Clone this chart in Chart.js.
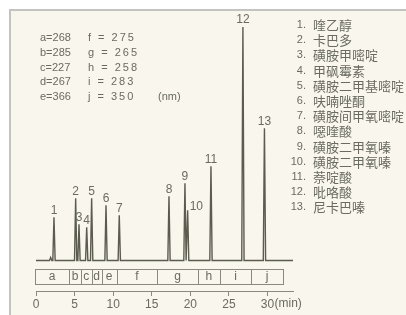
<!DOCTYPE html>
<html>
<head>
<meta charset="utf-8">
<script src="https://cdn.jsdelivr.net/npm/chart.js@4.4.1/dist/chart.umd.min.js"></script>
<style>
  html, body { margin: 0; padding: 0; background: #fff; }
</style>
</head>
<body>
<canvas id="chart" width="406" height="315"></canvas>
<script>
// peaks (retention time in min, height)
const peakLabels = ["1", "2", "3", "4", "5", "6", "7", "8", "9", "10", "11", "12", "13"];
const peakTimes = [2.33, 5.14, 5.57, 6.57, 7.21, 9.07, 10.79, 17.23, 19.3, 19.65, 22.67, 26.81, 29.6];
const peakHeights = [43, 62, 36, 33, 62, 55, 45, 64, 77, 50, 94, 233, 132];
const minorTimes = [1.9];
const minorHeights = [3];

const compoundNames = [
  "喹乙醇", "卡巴多", "磺胺甲嘧啶", "甲砜霉素", "磺胺二甲基嘧啶",
  "呋喃唑酮", "磺胺间甲氧嘧啶", "噁喹酸", "磺胺二甲氧嗪", "磺胺二甲氧嗪",
  "萘啶酸", "吡咯酸", "尼卡巴嗪"
];

// detection wavelength segments
const segmentLetters = ["a", "b", "c", "d", "e", "f", "g", "h", "i", "j"];
const wavelengths = [268, 285, 227, 267, 366, 275, 265, 258, 283, 350];
const segmentEdges = [-0.1, 4.3, 5.83, 7.2, 8.5, 10.45, 15.7, 21.0, 23.8, 27.9, 32.0];

const xTicks = [0, 5, 10, 15, 20, 25, 30];
const xEnd = 33.3;

const INK = "#5b5b50";
const TEXT = "#6b6b62";
const FONT = "'Liberation Sans', Arial, sans-serif";
const CJK = "'Noto Sans CJK SC', sans-serif";

// ---- chromatogram trace built from the peak list ----
const PEAK_HALF = 0.15;
const allPeaks = peakTimes.map((t, i) => ({ t: t, h: peakHeights[i] }))
  .concat(minorTimes.map((t, i) => ({ t: t, h: minorHeights[i] })))
  .sort((a, b) => a.t - b.t);
const trace = [{ x: 0, y: 0 }];
allPeaks.forEach((p) => {
  trace.push({ x: p.t - PEAK_HALF, y: 0 }, { x: p.t, y: p.h }, { x: p.t + PEAK_HALF, y: 0 });
});
trace.push({ x: xEnd, y: 0 });

// ---- background + frame ----
const framePlugin = {
  id: "frame",
  beforeDraw(chart) {
    const c = chart.ctx;
    c.save();
    c.fillStyle = "#ffffff";
    c.fillRect(0, 0, chart.width, chart.height);
    c.fillStyle = "#f8f6ed";
    c.fillRect(10, 10, chart.width - 10, chart.height - 10);
    c.strokeStyle = "#c4c4bc";
    c.lineWidth = 2;
    c.beginPath();
    c.moveTo(10, chart.height);
    c.lineTo(10, 10);
    c.lineTo(chart.width, 10);
    c.stroke();
    c.restore();
  }
};

// ---- labels, wavelength band, notes ----
const notesPlugin = {
  id: "notes",
  afterDraw(chart) {
    const c = chart.ctx;
    const xs = chart.scales.x;
    const ys = chart.scales.y;
    c.save();

    // peak numbers
    c.fillStyle = TEXT;
    c.font = "12px " + FONT;
    c.textAlign = "center";
    c.textBaseline = "bottom";
    peakTimes.forEach((t, i) => {
      const px = xs.getPixelForValue(t);
      const py = ys.getPixelForValue(peakHeights[i]);
      if (peakLabels[i] === "10") {
        c.textAlign = "left";
        c.fillText(peakLabels[i], px + 2, py + 2);
        c.textAlign = "center";
      } else {
        c.fillText(peakLabels[i], px, py - 1);
      }
    });

    // wavelength band under the baseline
    const top = ys.getPixelForValue(-9);
    const bot = ys.getPixelForValue(-23.5);
    c.strokeStyle = "#8a8a80";
    c.lineWidth = 1;
    const x0 = xs.getPixelForValue(segmentEdges[0]);
    const x1 = xs.getPixelForValue(segmentEdges[segmentEdges.length - 1]);
    c.strokeRect(Math.round(x0) + 0.5, Math.round(top) + 0.5, Math.round(x1 - x0), Math.round(bot - top));
    c.textBaseline = "middle";
    segmentLetters.forEach((l, i) => {
      const a = xs.getPixelForValue(segmentEdges[i]);
      const b = xs.getPixelForValue(segmentEdges[i + 1]);
      if (i > 0) {
        c.beginPath();
        c.moveTo(Math.round(a) + 0.5, top);
        c.lineTo(Math.round(a) + 0.5, bot);
        c.stroke();
      }
      c.fillText(l, (a + b) / 2, (top + bot) / 2);
    });

    // "(min)" after the last tick
    const lastTick = xTicks[xTicks.length - 1];
    c.textAlign = "left";
    c.textBaseline = "top";
    c.fillText("(min)", xs.getPixelForValue(lastTick) + 7, xs.top + 7);

    // wavelength table, top left
    c.textBaseline = "middle";
    c.font = "11px " + FONT;
    segmentLetters.forEach((l, i) => {
      const col = i < 5 ? 0 : 1;
      const row = i % 5;
      const y = 38 + row * 14.8;
      if (col === 0) {
        c.letterSpacing = "0px";
        c.fillText(l + "=" + wavelengths[i], 40, y);
      } else {
        c.letterSpacing = "2px";
        c.fillText(l + " = " + wavelengths[i], 88, y);
      }
    });
    c.letterSpacing = "0px";
    c.fillText("(nm)", 158, 38 + 4 * 14.8);

    // compound list, top right
    compoundNames.forEach((name, i) => {
      const y = 25 + i * 15.2;
      c.font = "11px " + FONT;
      c.textAlign = "right";
      c.fillText((i + 1) + ".", 306, y);
      c.font = "13px " + CJK;
      c.textAlign = "left";
      c.fillText(name, 313, y);
    });

    c.restore();
  }
};

new Chart(document.getElementById("chart"), {
  type: "line",
  data: {
    datasets: [
      {
        data: trace,
        borderColor: INK,
        borderWidth: 1.4,
        pointRadius: 0,
        tension: 0,
        fill: false,
      },
    ],
  },
  options: {
    responsive: false,
    animation: false,
    layout: { padding: { left: 36, right: 113, top: 10, bottom: 0 } },
    plugins: { legend: { display: false }, tooltip: { enabled: false } },
    scales: {
      x: {
        type: "linear",
        min: 0,
        max: xEnd,
        afterBuildTicks: (s) => {
          s.ticks = xTicks.map((v) => ({ value: v }));
        },
        afterFit: (s) => {
          s.height = 24;
        },
        grid: { drawOnChartArea: false, drawTicks: true, tickLength: 5, color: "#8a8a80" },
        border: { display: true, color: "#8a8a80", width: 1 },
        ticks: { color: TEXT, font: { family: FONT, size: 12 }, padding: 1, maxRotation: 0, autoSkip: false },
      },
      y: { display: false, min: -30.5, max: 250 },
    },
  },
  plugins: [framePlugin, notesPlugin],
});
</script>
</body>
</html>
